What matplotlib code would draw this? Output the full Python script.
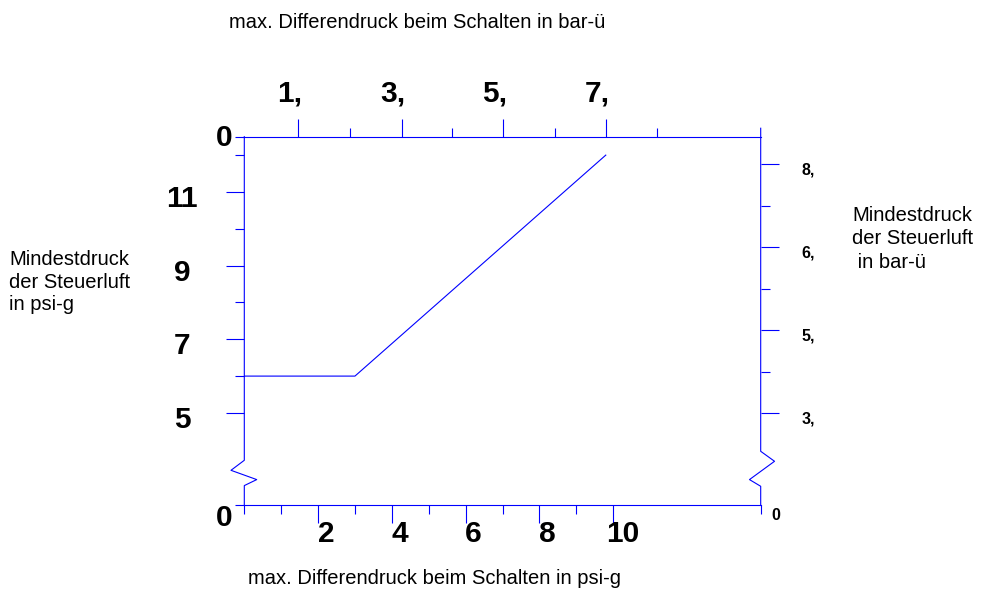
import matplotlib
matplotlib.use("Agg")
import matplotlib.pyplot as plt
from matplotlib.transforms import offset_copy

plt.rcParams['font.family'] = ['Liberation Sans', 'DejaVu Sans']

# data (psi-g)
line_x = [0, 3, 9.8]
line_y = [6, 6, 12]

# bottom axis psi-g
bottom_major = [2, 4, 6, 8, 10]
bottom_minor = [0, 1, 3, 5, 7, 9, 14]
bottom_labels = ["2", "4", "6", "8", "10"]

# left axis psi-g (broken, bottom shown as 0)
left_major = [5, 7, 9, 11]
left_minor = [2.5, 6, 8, 10, 12, 12.5]
left_labels = ["5", "7", "9", "11"]

# top axis bar-ü
top_major = [0.101, 0.294, 0.484, 0.676]
top_minor = [0.197, 0.389, 0.580, 0.772]
top_labels = ["1,", "3,", "5,", "7,"]

# right axis bar-ü
right_major = [0.344, 0.500, 0.655, 0.811]
right_minor = [0.422, 0.577, 0.732]
right_labels = ["3,", "5,", "6,", "8,"]

PSI2BAR = 0.0689476
XMAX = 14
YMIN, YMAX = 2.5, 12.5

BLUE = "#0000ff"
LW = 0.8
MAJ = 13.3
MIN = 6.7

fig = plt.figure(figsize=(9.84, 5.89), dpi=100)
ax = fig.add_axes([244.3 / 984, (589 - 505) / 589, 516.4 / 984, 368.3 / 589])
ax.set_xlim(0, XMAX)
ax.set_ylim(YMIN, YMAX)
for s in ["left", "right"]:
    ax.spines[s].set_visible(False)
for s in ["top", "bottom"]:
    ax.spines[s].set_color(BLUE)
    ax.spines[s].set_linewidth(LW)

ax.plot(line_x, line_y, color=BLUE, lw=LW)

# broken left / right axis lines with zigzag
lx = [0, 0, -0.361, 0.337, 0, 0]
ly = [YMAX, 3.714, 3.442, 3.19, 3.027, YMIN]
ax.plot(lx, ly, color=BLUE, lw=LW, clip_on=False)
rx = [XMAX, XMAX, 14.375, 13.696, XMAX, XMAX]
ry = [YMAX + 0.23, 3.958, 3.687, 3.19, 3.008, YMIN]
ax.plot(rx, ry, color=BLUE, lw=LW, clip_on=False)

ax.set_xticks(bottom_major)
ax.set_xticks(bottom_minor, minor=True)
ax.set_yticks(left_major)
ax.set_yticks(left_minor, minor=True)
ax.tick_params(which="major", length=MAJ, width=LW, color=BLUE, direction="out",
               labelbottom=False, labelleft=False)
ax.tick_params(which="minor", length=MIN, width=LW, color=BLUE, direction="out")

ax_t = ax.twiny()
ax_t.set_xlim(0, XMAX * PSI2BAR)
ax_r = ax.twinx()
ax_r.set_ylim(YMIN * PSI2BAR, YMAX * PSI2BAR)
for a in (ax_t, ax_r):
    for s in a.spines.values():
        s.set_visible(False)
ax_t.set_xticks(top_major)
ax_t.set_xticks(top_minor, minor=True)
ax_r.set_yticks(right_major)
ax_r.set_yticks(right_minor, minor=True)
for a in (ax_t, ax_r):
    a.tick_params(which="major", length=MAJ, width=LW, color=BLUE, direction="out",
                  labeltop=False, labelright=False)
    a.tick_params(which="minor", length=MIN, width=LW, color=BLUE, direction="out")

num_font = dict(fontsize=21.5, fontweight="bold", color="black")
small_font = dict(fontsize=11.5, fontweight="bold", color="black")

# bottom labels
tb = offset_copy(ax.get_xaxis_transform(), fig=fig, x=8, y=-29, units="dots")
for v, t in zip(bottom_major, bottom_labels):
    dx = 2 if len(t) > 1 else 0
    ax.text(v, 0, t, transform=offset_copy(tb, fig=fig, x=dx, units="dots"),
            ha="center", va="center", **num_font)

# left labels
tl = offset_copy(ax.get_yaxis_transform(), fig=fig, x=-62, y=-7, units="dots")
for v, t in zip(left_major, left_labels):
    ax.text(0, v, t, transform=tl, ha="center", va="center", **num_font)

# zero labels at left corners
tz = offset_copy(ax.transAxes, fig=fig, x=-20, y=0, units="dots")
ax.text(0, 1, "0", transform=offset_copy(tz, fig=fig, y=-1, units="dots"),
        ha="center", va="center", **num_font)
ax.text(0, 0, "0", transform=offset_copy(tz, fig=fig, y=-13, units="dots"),
        ha="center", va="center", **num_font)

# top labels
tt = offset_copy(ax_t.get_xaxis_transform(), fig=fig, x=-9, y=43, units="dots")
for v, t in zip(top_major, top_labels):
    ax_t.text(v, 1, t, transform=tt, ha="center", va="center", **num_font)

# right labels
tr = offset_copy(ax_r.get_yaxis_transform(), fig=fig, x=41, y=-6, units="dots")
for v, t in zip(right_major, right_labels):
    ax_r.text(1, v, t, transform=tr, ha="left", va="center", **small_font)
ax_r.text(1, 0, "0", transform=offset_copy(ax_r.transAxes, fig=fig, x=11, y=-11, units="dots"),
          ha="left", va="center", **small_font)

# axis titles
TFS = 14.5
fig.text(417 / 984, 1 - 22 / 589, "max. Differendruck beim Schalten in bar-ü",
         ha="center", va="center", fontsize=TFS)
fig.text(434 / 984, 1 - 578 / 589, "max. Differendruck beim Schalten in psi-g",
         ha="center", va="center", fontsize=TFS)
fig.text(9 / 984, 1 - 282 / 589, "Mindestdruck\nder Steuerluft\nin psi-g",
         ha="left", va="center", fontsize=TFS, linespacing=1.25)
fig.text(852 / 984, 1 - 239 / 589, "Mindestdruck\nder Steuerluft\n in bar-ü",
         ha="left", va="center", fontsize=TFS, linespacing=1.3)

fig.savefig("out.png", dpi=100)
